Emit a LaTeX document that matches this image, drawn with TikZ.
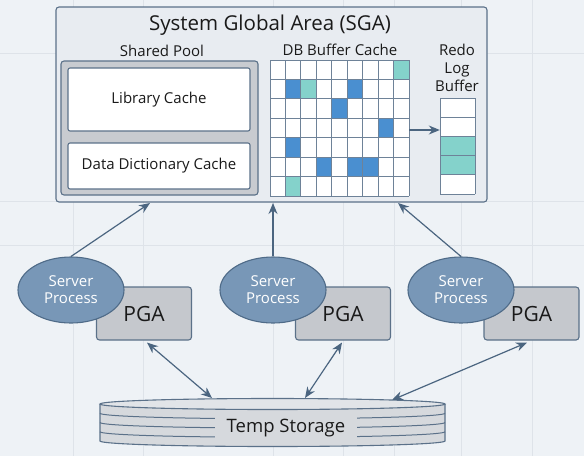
\documentclass[tikz,border=0pt]{standalone}
\usepackage{fontspec}
\setmainfont{Open Sans}
\usetikzlibrary{shapes.geometric,arrows.meta,calc}
\definecolor{bgc}{HTML}{EEF2F6}
\definecolor{bgline}{HTML}{DEE3E9}
\definecolor{sgafill}{HTML}{E8ECF1}
\definecolor{edge}{HTML}{5B7189}
\definecolor{poolfill}{HTML}{C8CBD0}
\definecolor{cellline}{HTML}{6E8298}
\definecolor{blk}{HTML}{4A8FD0}
\definecolor{tealc}{HTML}{84D2CB}
\definecolor{procfill}{HTML}{7897B7}
\definecolor{procedge}{HTML}{4F6B88}
\definecolor{pgafill}{HTML}{C5C8CD}
\definecolor{arr}{HTML}{4B6580}
\definecolor{cylfill}{HTML}{D6D9DD}
\definecolor{cyltop}{HTML}{E1E4E8}
\definecolor{txt}{HTML}{1A1A1A}
\begin{document}
\begin{tikzpicture}[x=1pt,y=-1pt,
  box/.style={draw=edge,line width=1.1pt,rounded corners=3pt,inner sep=0pt},
  lbl/.style={text=txt,font=\fontsize{15}{17}\selectfont,inner sep=0pt},
  proc/.style={ellipse,draw=procedge,line width=1.1pt,fill=procfill,minimum width=106pt,minimum height=66pt,inner sep=0pt,text=white,align=center,font=\fontsize{15}{17}\selectfont},
  pga/.style={box,fill=pgafill,minimum width=95pt,minimum height=53pt,text=txt,font=\fontsize{21}{24}\selectfont},
  conn/.style={draw=arr,line width=1.2pt,-{Stealth[length=11pt,width=9pt]}},
  conn2/.style={draw=arr,line width=1.2pt,{Stealth[length=11pt,width=9pt]}-{Stealth[length=11pt,width=9pt]}},
  cell/.style={draw=cellline,line width=0.8pt}
]
\useasboundingbox (0,0) rectangle (584,456);
\fill[bgc] (0,0) rectangle (584,456);
% faint background grid
\foreach \gx in {73,143,273,343,394,461,532} \draw[bgline,line width=0.8pt] (\gx,0) -- (\gx,456);
\foreach \gy in {53,201,245} \draw[bgline,line width=0.8pt] (0,\gy) -- (584,\gy);

% SGA
\node[box,fill=sgafill,minimum width=431pt,minimum height=195pt] (sga) at (271.5,104.5) {};
\node[text=txt,font=\fontsize{20.5}{23}\selectfont,inner sep=0pt] (title) at (270,25) {System Global Area (SGA)};

% Shared pool
\node[lbl] (splbl) at (162,51) {Shared Pool};
\node[box,fill=poolfill,minimum width=197pt,minimum height=134pt] (pool) at (159.5,128) {};
\node[box,fill=white,rounded corners=2pt,minimum width=182pt,minimum height=63pt,lbl] (lib) at (159,99.5) {Library Cache};
\node[box,fill=white,rounded corners=2pt,minimum width=182pt,minimum height=46pt,lbl] (ddc) at (159,166) {Data Dictionary Cache};

% DB buffer cache
\node[lbl] (dblbl) at (340,50) {DB Buffer Cache};
\node[minimum width=139pt,minimum height=136pt,inner sep=0pt] (dbgrid) at (339.5,128) {};
\fill[white] (270,60) rectangle (409,196);
\foreach \r/\c/\col in {0/8/tealc,1/1/blk,1/2/tealc,1/5/blk,2/4/blk,3/7/blk,4/1/blk,5/3/blk,5/5/blk,5/6/blk,6/1/tealc}
  \fill[\col] ({270+\c*139/9},{60+\r*136/7}) rectangle ++({139/9},{136/7});
\foreach \i in {0,...,9} \draw[cell] ({270+\i*139/9},60) -- ({270+\i*139/9},196);
\foreach \j in {0,...,7} \draw[cell] (270,{60+\j*136/7}) -- (409,{60+\j*136/7});

% Redo log buffer
\node[lbl,align=center,font=\fontsize{15}{18}\selectfont] (redolbl) at (457,68) {Redo\\Log\\Buffer};
\node[minimum width=35pt,minimum height=96pt,inner sep=0pt] (redo) at (457.5,146) {};
\fill[white] (440,98) rectangle (475,194);
\fill[tealc] (440,136.4) rectangle (475,174.8);
\foreach \j in {0,...,5} \draw[cell] (440,{98+\j*19.2}) -- (475,{98+\j*19.2});
\draw[cell] (440,98) -- (440,194) (475,98) -- (475,194);
\draw[conn] ([yshift=-2pt]dbgrid.east) -- ([yshift=-2pt]dbgrid.east -| redo.west);

% PGA boxes and server processes
\node[pga] (pga1) at (144,313.5) {PGA};
\node[pga] (pga2) at (343,313.5) {PGA};
\node[pga] (pga3) at (531.5,313.5) {PGA};
\node[proc] (sp1) at (71,290) {Server\\Process};
\node[proc] (sp2) at (273,290) {Server\\Process};
\node[proc] (sp3) at (461,290) {Server\\Process};

\coordinate (a1) at (150,203);
\coordinate (a2) at (273,203);
\coordinate (a3) at (398,203);
\draw[conn] (sp1.north) -- (a1);
\draw[conn] (sp2.north) -- (a2);
\draw[conn] (sp3.north) -- (a3);

% Temp storage cylinder
\fill[cylfill] (100,404) -- (100,441) arc[start angle=180,end angle=0,x radius=172.5,y radius=5.5] -- (445,404) -- cycle;
\foreach \yy in {413.25,422.5,431.75}
  \draw[edge,line width=1pt] (100,\yy) arc[start angle=180,end angle=0,x radius=172.5,y radius=5.5];
\draw[edge,line width=1.1pt] (100,404) -- (100,441) arc[start angle=180,end angle=0,x radius=172.5,y radius=5.5] -- (445,404);
\draw[edge,line width=1.1pt,fill=cyltop] (272.5,404) ellipse[x radius=172.5,y radius=5.5];
\node[fill=cylfill,minimum width=142pt,minimum height=27pt,inner sep=0pt,text=txt,font=\fontsize{18.5}{21}\selectfont] (temp) at (286,428) {Temp Storage};

\coordinate (t1) at (212,398);
\coordinate (t2) at (305,398);
\coordinate (t3) at (392,400);
\draw[conn2] ([xshift=3pt,yshift=-2pt]pga1.south) -- (t1);
\draw[conn2] ([xshift=-1pt,yshift=-2pt]pga2.south) -- (t2);
\draw[conn2] ([xshift=-4.5pt,yshift=-2pt]pga3.south) -- (t3);
\end{tikzpicture}
\end{document}
